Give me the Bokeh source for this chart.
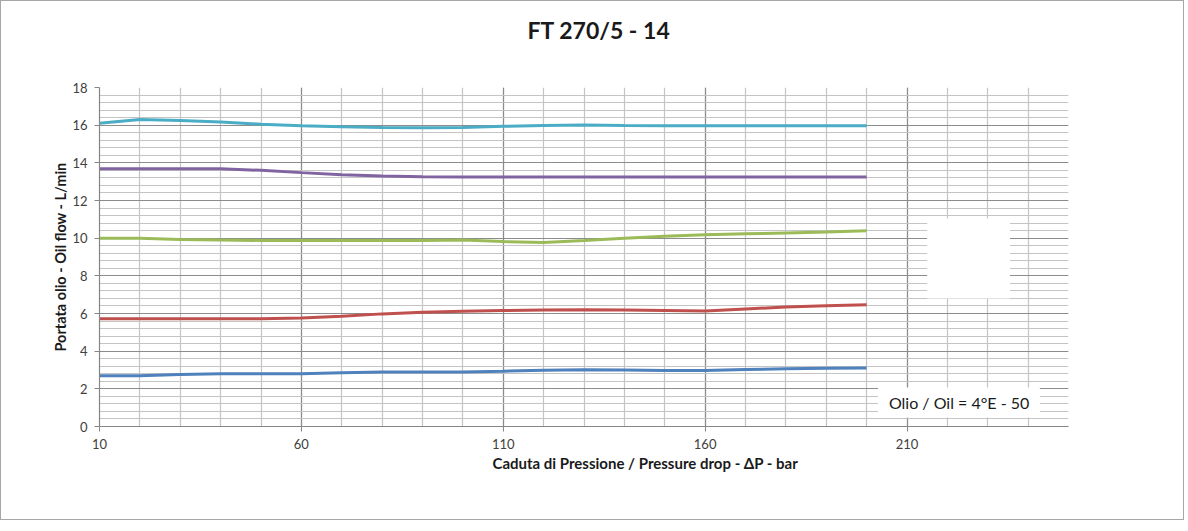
from bokeh.plotting import figure
from bokeh.models import FixedTicker, Label, Range1d, Title
from bokeh.embed import file_html
from bokeh.resources import INLINE

# ---- data ----
pressure = [10, 20, 30, 40, 50, 60, 70, 80, 90, 100, 110, 120, 130, 140, 150, 160, 170, 180, 190, 200]
flow_cyan = [16.10, 16.30, 16.25, 16.17, 16.05, 15.97, 15.92, 15.88, 15.86, 15.88, 15.94, 15.98, 16.01, 15.98, 15.97, 15.97, 15.97, 15.97, 15.97, 15.97]
flow_purple = [13.68, 13.68, 13.68, 13.68, 13.60, 13.48, 13.37, 13.30, 13.26, 13.25, 13.25, 13.25, 13.25, 13.25, 13.25, 13.25, 13.25, 13.25, 13.25, 13.25]
flow_green = [10.00, 10.00, 9.93, 9.90, 9.88, 9.88, 9.88, 9.88, 9.88, 9.90, 9.82, 9.77, 9.87, 10.00, 10.10, 10.18, 10.23, 10.28, 10.33, 10.40]
flow_red = [5.72, 5.72, 5.72, 5.72, 5.72, 5.76, 5.85, 5.98, 6.07, 6.12, 6.16, 6.19, 6.20, 6.19, 6.16, 6.13, 6.24, 6.35, 6.41, 6.46]
flow_blue = [2.69, 2.69, 2.76, 2.80, 2.80, 2.80, 2.86, 2.89, 2.90, 2.90, 2.94, 2.99, 3.01, 3.00, 2.98, 2.97, 3.02, 3.07, 3.09, 3.10]

x_major_ticks = [10, 60, 110, 160, 210]
x_minor_ticks = list(range(10, 251, 10))
y_major_ticks = list(range(0, 19, 2))
y_minor_ticks = [round(i * 0.4, 1) for i in range(46)]

title_text = "FT 270/5 - 14"
x_title = "Caduta di Pressione / Pressure drop - \u0394P - bar"
y_title = "Portata olio - Oil flow - L/min"
oil_text = "Olio / Oil = 4\u00b0E - 50"

series = [
    (flow_cyan, "#4BACC6"),
    (flow_purple, "#8064A2"),
    (flow_green, "#9BBB59"),
    (flow_red, "#C0504D"),
    (flow_blue, "#4F81BD"),
]

FONT = "Lato"

W, H = 1184, 520
p = figure(width=W, height=H, output_backend="svg", toolbar_location=None,
           x_range=Range1d(10, 250), y_range=Range1d(0, 18))
p.min_border_left = 98
p.min_border_right = W - 98 - 969
p.min_border_top = 86
p.min_border_bottom = H - 86 - 339
p.outline_line_color = None
p.background_fill_color = "white"
p.border_fill_color = "white"
p.styles = {"border": "1px solid #A6A6A6"}

p.title.text = title_text
p.title.text_font = FONT
p.title.text_font_size = "23px"
p.title.text_font_style = "bold"
p.title.text_color = "#1a1a1a"
p.title.align = "left"
p.title.offset = 428
p.title.standoff = 10

# spacer between title and plot frame
spacer = Title(text=" ", text_font_size="10px", standoff=26, text_color="white")
p.add_layout(spacer, "above")

# grids
p.xaxis.ticker = FixedTicker(ticks=x_major_ticks, minor_ticks=x_minor_ticks)
p.yaxis.ticker = FixedTicker(ticks=y_major_ticks, minor_ticks=y_minor_ticks)
for g in (p.xgrid, p.ygrid):
    g.grid_line_color = "#8C8C8C"
    g.grid_line_width = 1.2
    g.minor_grid_line_color = "#C4C4C4"
    g.minor_grid_line_width = 1.2

# axes
for ax in (p.xaxis, p.yaxis):
    ax.axis_line_color = "#868686"
    ax.axis_line_width = 1.2
    ax.major_tick_line_color = "#868686"
    ax.major_tick_in = 0
    ax.major_tick_out = 5
    ax.minor_tick_line_color = None
    ax.major_label_text_font = FONT
    ax.major_label_text_font_size = "13px"
    ax.major_label_text_color = "#404040"

p.xaxis.major_label_standoff = 7
p.yaxis.major_label_standoff = 7
p.yaxis.axis_label = y_title
p.yaxis.axis_label_text_font = FONT
p.yaxis.axis_label_text_font_size = "14.5px"
p.yaxis.axis_label_text_font_style = "bold"
p.yaxis.axis_label_text_color = "#1a1a1a"
p.yaxis.axis_label_standoff = 0

# x axis title (offset to match reference placement)
xt = Title(text=x_title, align="left", offset=393, standoff=0, text_font=FONT,
           text_font_size="15px", text_font_style="bold", text_color="#1a1a1a")
p.add_layout(xt, "below")

# blank legend box area
p.quad(left=[215], right=[235.5], bottom=[6.8], top=[11.05], fill_color="white", line_color=None)

for ys, col in series:
    p.line(pressure, ys, line_color=col, line_width=3)

# oil label box
p.quad(left=[202.8], right=[242.9], bottom=[0.48], top=[2.07], fill_color="white", line_color=None)
p.add_layout(Label(x=222.9, y=1.3, text=oil_text, text_align="center", text_baseline="middle",
                   text_font=FONT, text_font_size="16px", text_color="#1a1a1a"))

open("out.html", "w").write(file_html(p, INLINE))
